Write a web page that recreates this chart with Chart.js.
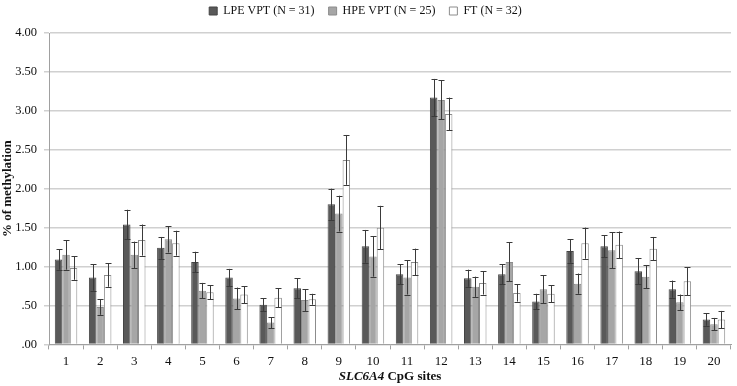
<!DOCTYPE html>
<html>
<head>
<meta charset="utf-8">
<script src="https://cdn.jsdelivr.net/npm/chart.js@4"></script>
<style>
  html, body { margin: 0; padding: 0; background: #fff; }
  #wrap { width: 737px; height: 386px; }
</style>
</head>
<body>
<div id="wrap"><canvas id="chart"></canvas></div>
<script>
const sites = ["1","2","3","4","5","6","7","8","9","10","11","12","13","14","15","16","17","18","19","20"];

const lpe = [1.09, 0.86, 1.54, 1.24, 1.06, 0.86, 0.51, 0.72, 1.80, 1.26, 0.90, 3.17, 0.85, 0.90, 0.55, 1.20, 1.26, 0.94, 0.71, 0.32];
const lpeErr = [0.13, 0.17, 0.19, 0.14, 0.13, 0.11, 0.08, 0.13, 0.20, 0.21, 0.13, 0.24, 0.11, 0.13, 0.10, 0.15, 0.14, 0.17, 0.11, 0.08];

const hpe = [1.15, 0.48, 1.15, 1.35, 0.69, 0.59, 0.28, 0.57, 1.68, 1.13, 0.86, 3.14, 0.74, 1.06, 0.71, 0.78, 1.21, 0.87, 0.54, 0.26];
const hpeErr = [0.19, 0.10, 0.17, 0.17, 0.10, 0.14, 0.07, 0.14, 0.23, 0.26, 0.22, 0.25, 0.13, 0.25, 0.18, 0.13, 0.23, 0.15, 0.10, 0.08];

const ft = [0.98, 0.89, 1.34, 1.30, 0.67, 0.64, 0.60, 0.58, 2.37, 1.50, 1.06, 2.96, 0.79, 0.66, 0.65, 1.30, 1.28, 1.23, 0.81, 0.32];
const ftErr = [0.15, 0.15, 0.20, 0.16, 0.09, 0.11, 0.12, 0.07, 0.32, 0.28, 0.17, 0.21, 0.15, 0.11, 0.11, 0.20, 0.17, 0.15, 0.18, 0.11];

const errors = [lpeErr, hpeErr, ftErr];

// push the plot a bit below the legend
const legendGap = {
  id: "legendGap",
  beforeInit(chart) {
    const fit = chart.legend.fit;
    chart.legend.fit = function () {
      fit.bind(chart.legend)();
      this.height += 6;
    };
  },
};

const errorBars = {
  id: "errorBars",
  afterDatasetsDraw(chart) {
    const ctx = chart.ctx;
    const y = chart.scales.y;
    ctx.save();
    ctx.strokeStyle = "#3a3a3a";
    ctx.lineWidth = 1;
    chart.data.datasets.forEach((ds, i) => {
      const meta = chart.getDatasetMeta(i);
      meta.data.forEach((bar, j) => {
        const v = ds.data[j];
        const e = errors[i][j];
        const x = Math.round(bar.x) + 0.5;
        const top = y.getPixelForValue(v + e);
        const bot = y.getPixelForValue(v - e);
        ctx.beginPath();
        ctx.moveTo(x, top);
        ctx.lineTo(x, bot);
        ctx.moveTo(x - 3, Math.round(top) + 0.5);
        ctx.lineTo(x + 3, Math.round(top) + 0.5);
        ctx.moveTo(x - 3, Math.round(bot) + 0.5);
        ctx.lineTo(x + 3, Math.round(bot) + 0.5);
        ctx.stroke();
      });
    });
    ctx.restore();
  },
  afterDraw(chart) {
    const ctx = chart.ctx;
    const area = chart.chartArea;
    ctx.save();
    ctx.fillStyle = "#111";
    ctx.textBaseline = "middle";
    const f1 = 'italic bold 13px "Liberation Serif"';
    const f2 = 'bold 13px "Liberation Serif"';
    ctx.font = f1;
    const w1 = ctx.measureText("SLC6A4").width;
    ctx.font = f2;
    const w2 = ctx.measureText(" CpG sites").width;
    let x = (area.left + area.right) / 2 - (w1 + w2) / 2;
    const yy = 377;
    ctx.font = f1;
    ctx.fillText("SLC6A4", x, yy);
    ctx.font = f2;
    ctx.fillText(" CpG sites", x + w1, yy);
    ctx.restore();
  }
};

new Chart(document.getElementById("chart").getContext("2d"), {
  type: "bar",
  data: {
    labels: sites,
    datasets: [
      { label: "LPE VPT (N = 31)", data: lpe, backgroundColor: "#595959", borderColor: "#454545", borderWidth: 1 },
      { label: "HPE VPT (N = 25)", data: hpe, backgroundColor: "#a6a6a6", borderColor: "#8c8c8c", borderWidth: 1 },
      { label: "FT (N = 32)", data: ft, backgroundColor: "#ffffff", borderColor: "#8c8c8c", borderWidth: 1 },
    ],
  },
  options: {
    responsive: true,
    maintainAspectRatio: false,
    animation: false,
    layout: { padding: { left: 0, right: 6, top: 3, bottom: 13 } },
    datasets: { bar: { categoryPercentage: 0.66, barPercentage: 1.0 } },
    plugins: {
      tooltip: { enabled: false },
      legend: {
        position: "top",
        labels: {
          boxWidth: 8,
          boxHeight: 8,
          padding: 2,
          color: "#111",
          font: { family: "Liberation Serif", size: 12 },
          generateLabels(chart) {
            const items = Chart.defaults.plugins.legend.labels.generateLabels(chart);
            items.forEach((it, i) => { if (i < items.length - 1) it.text = it.text + "    "; });
            return items;
          },
        },
      },
    },
    scales: {
      x: {
        grid: { display: true, drawOnChartArea: false, offset: true, tickLength: 5, color: "#a0a0a0" },
        border: { color: "#a0a0a0" },
        ticks: { color: "#111", font: { family: "Liberation Serif", size: 13 }, padding: 4 },
      },
      y: {
        min: 0,
        max: 4,
        afterFit(scale) { scale.width = 49; },
        grid: { color: "#d0d0d0", tickLength: 5, lineWidth: 1.5 },
        border: { color: "#a0a0a0" },
        ticks: {
          stepSize: 0.5,
          padding: 7,
          color: "#111",
          font: { family: "Liberation Serif", size: 12.5 },
          callback: (v) => (v < 1 ? v.toFixed(2).replace(/^0/, "") : v.toFixed(2)),
        },
        title: {
          display: true,
          text: "% of methylation",
          color: "#111",
          font: { family: "Liberation Serif", size: 13, weight: "bold" },
          padding: { top: 0, bottom: 0 },
        },
      },
    },
  },
  plugins: [legendGap, errorBars],
});
</script>
</body>
</html>
